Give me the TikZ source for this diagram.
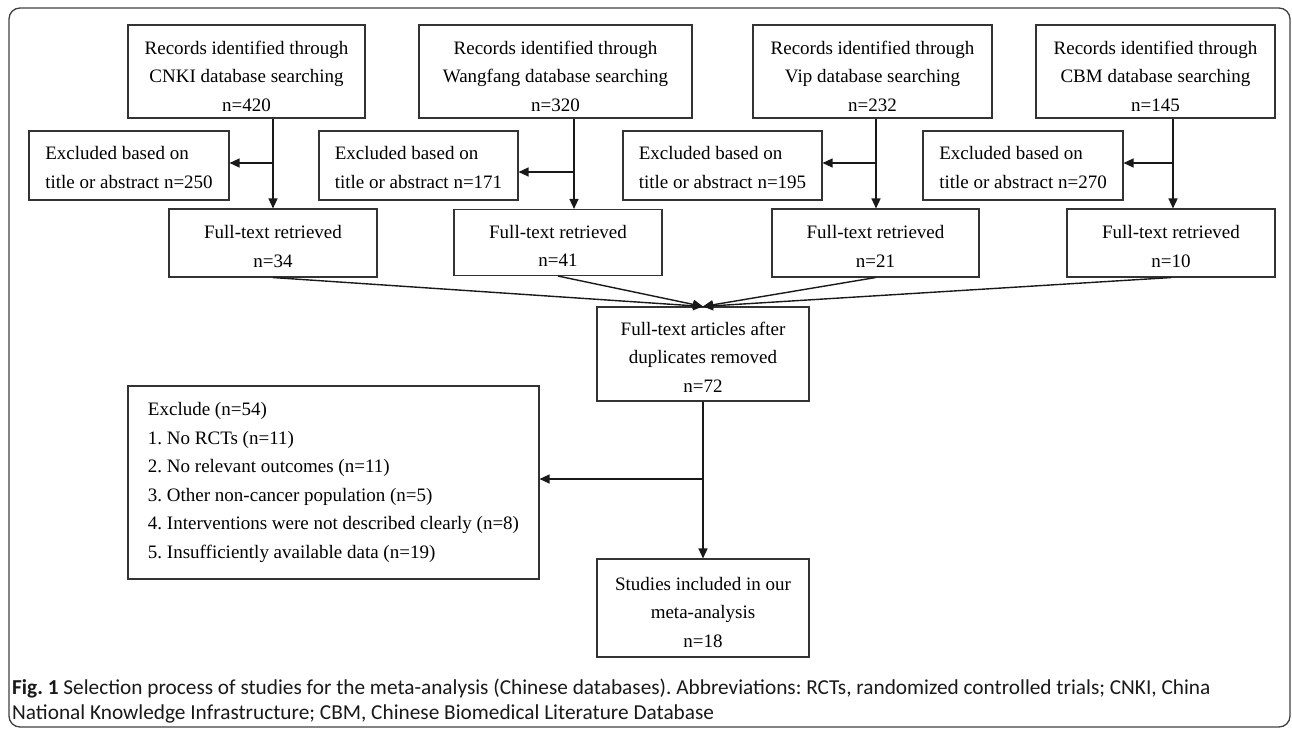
\documentclass[tikz,border=0pt]{standalone}
\usepackage{fontspec}
\setmainfont{Liberation Serif}
\newfontfamily\capfont{Carlito}
\usetikzlibrary{arrows.meta}
\frenchspacing
\begin{document}
\frenchspacing
\begin{tikzpicture}[x=1pt,y=-1pt,
  box/.style={draw=black!80, line width=1.1pt, inner sep=0pt, align=center,
    font=\fontsize{19}{28.5}\selectfont\frenchspacing, text=black},
  lbox/.style={box, align=left},
  arr/.style={line width=1.4pt, draw=black!90, -{Triangle[length=10pt,width=9pt]}},
  captext/.style={anchor=base west, inner sep=0pt, font=\capfont\fontsize{21.3}{25}\selectfont, text=black!90}]
\useasboundingbox (0,0) rectangle (1292,730);
\draw[black!75, line width=1.3pt, rounded corners=11pt] (9,8) rectangle (1290,727);

% top row
\node[box, minimum width=237pt, minimum height=93pt] (cnki) at (246.5,71.5)
  {\rule{0pt}{23pt}Records identified through\\CNKI database searching\\n=420};
\node[box, minimum width=273pt, minimum height=93pt] (wf) at (555.5,71.5)
  {\rule{0pt}{23pt}Records identified through\\Wangfang database searching\\n=320};
\node[box, minimum width=239pt, minimum height=93pt] (vip) at (872.5,71.5)
  {\rule{0pt}{23pt}Records identified through\\Vip database searching\\n=232};
\node[box, minimum width=239pt, minimum height=93pt] (cbm) at (1155.5,71.5)
  {\rule{0pt}{23pt}Records identified through\\CBM database searching\\n=145};

% excluded
\node[lbox, minimum width=200pt, minimum height=69pt] (ex1) at (129,165.5)
  {\rule{0pt}{17pt}Excluded based on\\title or abstract n=250};
\node[lbox, minimum width=199pt, minimum height=69pt] (ex2) at (418.5,165.5)
  {\rule{0pt}{17pt}Excluded based on\\title or abstract n=171};
\node[lbox, minimum width=199pt, minimum height=69pt] (ex3) at (722.5,165.5)
  {\rule{0pt}{17pt}Excluded based on\\title or abstract n=195};
\node[lbox, minimum width=200pt, minimum height=69pt] (ex4) at (1023,165.5)
  {\rule{0pt}{17pt}Excluded based on\\title or abstract n=270};

% full-text
\node[box, minimum width=208pt, minimum height=68pt] (ft1) at (273,243)
  {\rule{0pt}{20pt}Full-text retrieved\\n=34};
\node[box, minimum width=208pt, minimum height=66pt] (ft2) at (558,242.5)
  {\rule{0pt}{20pt}Full-text retrieved\\n=41};
\node[box, minimum width=207pt, minimum height=68pt] (ft3) at (875.5,243)
  {\rule{0pt}{20pt}Full-text retrieved\\n=21};
\node[box, minimum width=208pt, minimum height=68pt] (ft4) at (1171,243)
  {\rule{0pt}{20pt}Full-text retrieved\\n=10};

% center
\node[box, minimum width=212pt, minimum height=94pt] (cen) at (703,354)
  {\rule{0pt}{19pt}Full-text articles after\\duplicates removed\\n=72};
\node[box, minimum width=212pt, minimum height=98pt] (stu) at (703,608)
  {\rule{0pt}{22pt}Studies included in our\\meta-analysis\\n=18};
\node[lbox, minimum width=411pt, minimum height=193pt] (exc) at (333.5,482.5)
  {Exclude (n=54)\\1. No RCTs (n=11)\\2. No relevant outcomes (n=11)\\3. Other non-cancer population (n=5)\\4. Interventions were not described clearly (n=8)\\5. Insufficiently available data (n=19)};

% connectors
\coordinate (j1) at (273,163);
\coordinate (j2) at (574,172);
\coordinate (j3) at (876,163);
\coordinate (j4) at (1173,163);
\coordinate (j5) at (703,479);
\draw[arr] (cnki.south -| j1) -- (ft1.north -| j1);
\draw[arr] (j1) -- (j1 -| ex1.east);
\draw[arr] (wf.south -| j2) -- (ft2.north -| j2);
\draw[arr] (j2) -- (j2 -| ex2.east);
\draw[arr] (vip.south -| j3) -- (ft3.north -| j3);
\draw[arr] (j3) -- (j3 -| ex3.east);
\draw[arr] (cbm.south -| j4) -- (ft4.north -| j4);
\draw[arr] (j4) -- (j4 -| ex4.east);
\draw[arr] (ft1.south) -- (cen.north);
\draw[arr] (ft2.south) -- (cen.north);
\draw[arr] (ft3.south) -- (cen.north);
\draw[arr] (ft4.south) -- (cen.north);
\draw[arr] (cen.south) -- (stu.north);
\draw[arr] (j5) -- (j5 -| exc.east);

% caption
\node[captext] (cap1) at (12,694) {\textbf{Fig. 1} Selection process of studies for the meta-analysis (Chinese databases). Abbreviations: RCTs, randomized controlled trials; CNKI, China};
\node[captext] (cap2) at (12,719) {National Knowledge Infrastructure; CBM, Chinese Biomedical Literature Database};
\end{tikzpicture}
\end{document}
